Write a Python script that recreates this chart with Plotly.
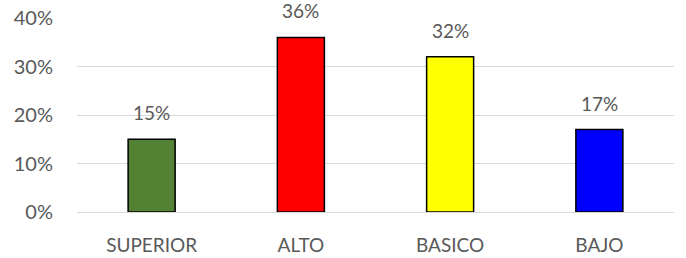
import plotly.graph_objects as go

categories = ["SUPERIOR", "ALTO", "BASICO", "BAJO"]
values = [0.15, 0.36, 0.32, 0.17]
colors = ["#548235", "#FF0000", "#FFFF00", "#0000FF"]
labels = ["15%", "36%", "32%", "17%"]
y_ticks = [0, 0.1, 0.2, 0.3, 0.4]
y_tick_labels = ["0%", "10%", "20%", "30%", "40%"]

font_family = "Lato, Open Sans, sans-serif"
text_color = "#595959"

fig = go.Figure()
fig.add_trace(go.Bar(
    x=categories, y=values,
    marker=dict(color=colors, line=dict(color="#000000", width=1.5)),
    hoverinfo="skip",
))
for c, v, t in zip(categories, values, labels):
    fig.add_annotation(x=c, y=v, text=t, showarrow=False, yanchor="bottom",
                       yshift=13, font=dict(family=font_family, size=19, color=text_color))

fig.update_layout(
    width=686, height=258,
    margin=dict(l=77, r=12, t=18, b=46),
    paper_bgcolor="white", plot_bgcolor="white",
    bargap=0.685,
    showlegend=False,
    font=dict(family=font_family, size=20, color=text_color),
    xaxis=dict(showgrid=False, showline=False, ticks="", automargin=False,
               ticklabelstandoff=20, tickfont=dict(size=19, color=text_color)),
    yaxis=dict(range=[0, 0.4], tickvals=y_ticks, ticktext=y_tick_labels,
               showgrid=True, gridcolor="#D9D9D9", gridwidth=1, zeroline=True,
               zerolinecolor="#D9D9D9", zerolinewidth=1, showline=False, ticks="",
               automargin=False, ticklabelstandoff=23,
               tickfont=dict(size=20, color=text_color)),
)
fig.write_html("out.html", config={"displayModeBar": False},
               post_script="document.body.style.margin='0';document.body.style.overflow='hidden';")
